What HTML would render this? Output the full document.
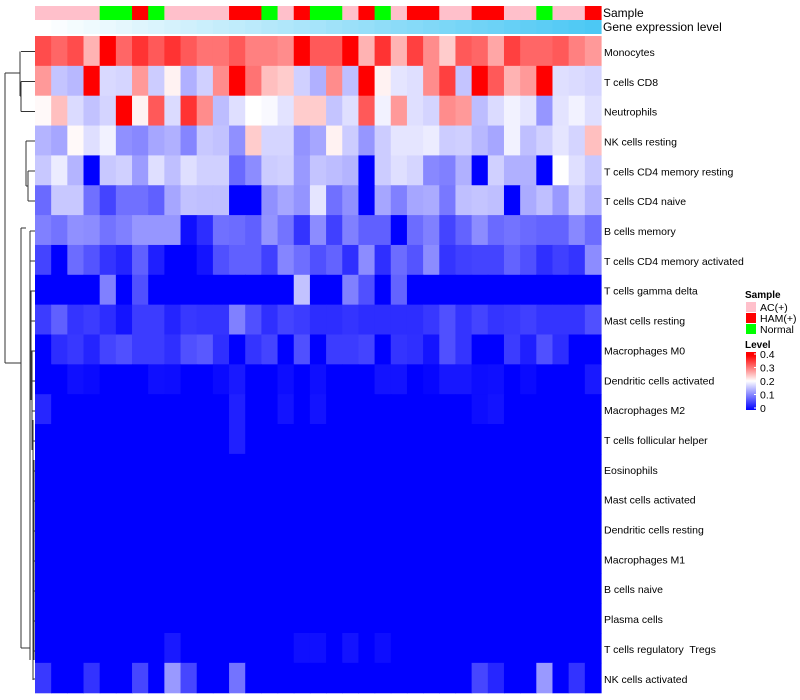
<!DOCTYPE html>
<html><head><meta charset="utf-8">
<style>
body{margin:0;background:#fff;}
svg{display:block;font-family:"Liberation Sans",Arial,sans-serif;}
text{white-space:pre;}
</style></head>
<body>
<svg id="chart" width="800" height="700" xmlns="http://www.w3.org/2000/svg">
<g id="dendro" stroke="#333" stroke-width="1" fill="none">
<path d="M21,51.5H35 M21,81.5H35 M21,111.5H35 M21,81.5V111.5 M20,51.5V96 M20,96H21 M5,73H20 M5,73V363 M5,363H21 M21,228V648 M21,228H26 M26,141V186 M26,141H35 M26,186H28 M28,171V201 M28,171H35 M28,201H35 M21,648H30"/>
<path d="M30,231V660 M30,231H35 M30,261H35 M30,291H35 M31,321H35 M31,291V400 M31,351H35 M32,381H35 M32,351V450 M32,411H35 M33,441H35 M33,420V680 M34,471H35 M34,501H35 M34,531H35 M34,561H35 M34,591H35 M34,621H35 M34,651H35 M33,679H35 M34,460V660"/>
</g>
<g id="cells"></g>
<g id="annot"></g>
<g id="labels"></g>
<text x="603" y="17" font-size="12">Sample</text>
<text x="603" y="31" font-size="12">Gene expression level</text>
<g>
<text x="745" y="298" font-size="10" font-weight="bold">Sample</text>
<rect x="746" y="302" width="10" height="10" fill="#ffc0cb"/>
<text x="760" y="311" font-size="10.5">AC(+)</text>
<rect x="746" y="313" width="10" height="10" fill="#ff0000"/>
<text x="760" y="322" font-size="10.5">HAM(+)</text>
<rect x="746" y="324" width="10" height="10" fill="#00ff00"/>
<text x="760" y="333" font-size="10.5">Normal</text>
<text x="745" y="348" font-size="10" font-weight="bold">Level</text>
<defs><linearGradient id="lg" x1="0" y1="1" x2="0" y2="0">
<stop offset="0" stop-color="#0000ff"/><stop offset="0.5" stop-color="#ffffff"/><stop offset="0.94" stop-color="#ff0000"/><stop offset="1" stop-color="#ff0000"/></linearGradient></defs>
<rect x="746" y="352" width="10" height="58" fill="url(#lg)"/>
<g id="lticks" font-size="10.5"></g>
</g>
</svg>
<script>
const rowNames=["Monocytes","T cells CD8","Neutrophils","NK cells resting","T cells CD4 memory resting","T cells CD4 naive","B cells memory","T cells CD4 memory activated","T cells gamma delta","Mast cells resting","Macrophages M0","Dendritic cells activated","Macrophages M2","T cells follicular helper","Eosinophils","Mast cells activated","Dendritic cells resting","Macrophages M1","B cells naive","Plasma cells","T cells regulatory  Tregs","NK cells activated"];
const sampleGroups=["AC","AC","AC","AC","N","N","H","N","AC","AC","AC","AC","H","H","N","AC","H","N","N","AC","H","N","AC","H","H","AC","AC","H","H","AC","AC","N","AC","AC","H"];
const levelTicks=[0,0.1,0.2,0.3,0.4];
const r1=[.34,.32,.34,.26,.40,.32,.36,.33,.36,.33,.31,.31,.33,.30,.30,.29,.40,.33,.33,.40,.26,.36,.26,.35,.29,.24,.33,.32,.27,.35,.32,.32,.33,.30,.28];
const r2=[.28,.154,.144,.40,.17,.167,.28,.16,.21,.138,.163,.29,.40,.31,.25,.24,.163,.138,.29,.15,.40,.21,.18,.175,.29,.35,.154,.40,.33,.26,.28,.40,.175,.172,.167];
const r3=[.205,.25,.172,.152,.166,.40,.21,.33,.172,.36,.29,.148,.175,.20,.195,.178,.24,.24,.154,.175,.33,.19,.28,.175,.166,.29,.28,.148,.172,.19,.18,.118,.178,.19,.175];
const r4=[.141,.13,.205,.175,.19,.113,.107,.13,.138,.104,.157,.152,.113,.24,.167,.167,.115,.13,.21,.16,.118,.16,.18,.18,.185,.16,.162,.144,.13,.19,.15,.163,.18,.166,.25];
const r5=[.157,.185,.141,0,.157,.163,.122,.175,.15,.175,.163,.163,.082,.11,.16,.163,.12,.154,.148,.141,0,.16,.175,.167,.107,.1,.138,0,.163,.138,.138,0,.20,.175,.157];
const r6=[.083,.157,.157,.088,.053,.088,.088,.075,.13,.152,.15,.15,0,0,.113,.13,.116,.18,.088,.113,0,.13,.1,.13,.134,.094,.15,.154,.15,0,.134,.15,.12,.163,.14];
const r7=[.1,.09,.113,.11,.09,.1,.118,.118,.118,.012,.035,.088,.085,.075,.116,.09,.04,.11,.05,.1,.075,.075,0,.085,.1,.053,.078,.11,.083,.09,.083,.078,.078,.107,.085];
const r8=[.053,0,.085,.066,.041,.028,.075,.024,0,0,.016,.063,.075,.075,.05,.104,.086,.063,.078,.037,.11,.037,.085,.066,.11,.041,.05,.053,.053,.078,.063,.037,.05,.041,.11];
const r9=[0,0,0,0,.1,0,.063,0,0,0,0,0,0,0,0,0,.152,0,0,.1,.063,0,.078,0,0,0,0,0,0,0,0,0,0,0,0];
const r10=[.047,.075,.041,.047,.035,.016,.047,.047,.028,.044,.041,.041,.1,.063,.037,.053,.047,.035,.035,.041,.035,.035,.035,.035,.044,.063,.041,.053,.041,.044,.05,.041,.041,.041,.063];
const r11=[0,.035,.044,.028,.053,.063,.047,.047,.037,.063,.07,.037,0,.041,.053,0,.063,0,.047,.047,.053,0,.041,.037,.016,.063,.041,0,0,.047,.024,.063,.035,0,0];
const r12=[0,0,.012,.008,0,0,0,.012,.01,0,0,.008,.02,0,0,.01,0,.012,0,0,0,.015,.015,0,.005,.018,.018,.01,.012,0,.008,0,0,0,.02];
const r13=[.03,0,0,0,0,0,0,0,0,0,0,0,.025,0,0,.015,0,.015,0,0,0,0,0,0,0,0,0,.01,.015,0,0,0,0,0,0];
const r14=[0,0,0,0,0,0,0,0,0,0,0,0,.025,0,0,0,0,0,0,0,0,0,0,0,0,0,0,0,0,0,0,0,0,0,0];
const r15=[0,0,0,0,0,0,0,0,0,0,0,0,0,0,0,0,0,0,0,0,0,0,0,0,0,0,0,0,0,0,0,0,0,0,0];
const r16=r15.slice(),r17=r15.slice(),r18=r15.slice(),r19=r15.slice(),r20=r15.slice();
const r21=[0,0,0,0,0,0,0,0,.02,0,0,0,0,0,0,0,.012,.012,0,.015,0,.01,0,0,0,0,0,0,0,0,0,0,0,0,0];
const r22=[.045,0,0,.04,0,0,.055,0,.12,.055,0,0,.09,0,0,0,0,0,0,0,0,0,0,0,0,0,0,.055,.03,0,0,.12,0,.04,0];
const values=[r1,r2,r3,r4,r5,r6,r7,r8,r9,r10,r11,r12,r13,r14,r15,r16,r17,r18,r19,r20,r21,r22];

const X0=35,X1=601,Y0=36,RH=29.85,NC=35;
const CW=(X1-X0)/NC;
const xPos=i=>X0+i*CW;
const yPos=r=>Y0+r*RH;
const levY=v=>408-v*135;
function col(v){
  if(v<=0.2){const t=Math.max(0,v)/0.2;const c=Math.round(255*t);return `rgb(${c},${c},255)`;}
  const t=Math.min(1,(v-0.2)/0.2);const c=Math.round(255*(1-t));return `rgb(255,${c},${c})`;
}
const NS="http://www.w3.org/2000/svg";
const cells=document.getElementById('cells');
values.forEach((row,r)=>{row.forEach((v,i)=>{
  const e=document.createElementNS(NS,'rect');
  e.setAttribute('x',xPos(i));e.setAttribute('y',yPos(r));
  e.setAttribute('width',CW+0.6);e.setAttribute('height',RH+0.6);
  e.setAttribute('fill',col(v));
  
  
  cells.appendChild(e);
});});
const gc={AC:"#ffc0cb",H:"#ff0000",N:"#00ff00"};
const an=document.getElementById('annot');
sampleGroups.forEach((g,i)=>{
  const e=document.createElementNS(NS,'rect');
  e.setAttribute('x',xPos(i));e.setAttribute('y',6);e.setAttribute('width',CW+0.6);e.setAttribute('height',14);
  e.setAttribute('fill',gc[g]);
  
  
  an.appendChild(e);
  const f=document.createElementNS(NS,'rect');
  const t=i/(NC-1);
  f.setAttribute('x',xPos(i));f.setAttribute('y',20);f.setAttribute('width',CW+0.6);f.setAttribute('height',14);
  f.setAttribute('fill',`rgb(${Math.round(255-179*t)},${Math.round(255-55*t)},${Math.round(255-11*t)})`);
  
  
  an.appendChild(f);
});
const lb=document.getElementById('labels');
rowNames.forEach((n,r)=>{
  const t=document.createElementNS(NS,'text');
  t.setAttribute('x',604);t.setAttribute('y',yPos(r)+RH/2+5);t.setAttribute('font-size','10.5');
  
  
  t.textContent=n;lb.appendChild(t);
});
const lt=document.getElementById('lticks');
levelTicks.forEach(v=>{
  const t=document.createElementNS(NS,'text');
  t.setAttribute('x',760);t.setAttribute('y',levY(v)+4);
  
  
  t.textContent=String(v);lt.appendChild(t);
  const l=document.createElementNS(NS,'line');
  l.setAttribute('x1',754);l.setAttribute('x2',756);l.setAttribute('y1',levY(v));l.setAttribute('y2',levY(v));l.setAttribute('stroke','#fff');
  
  
  lt.appendChild(l);
});
</script>
</body></html>
